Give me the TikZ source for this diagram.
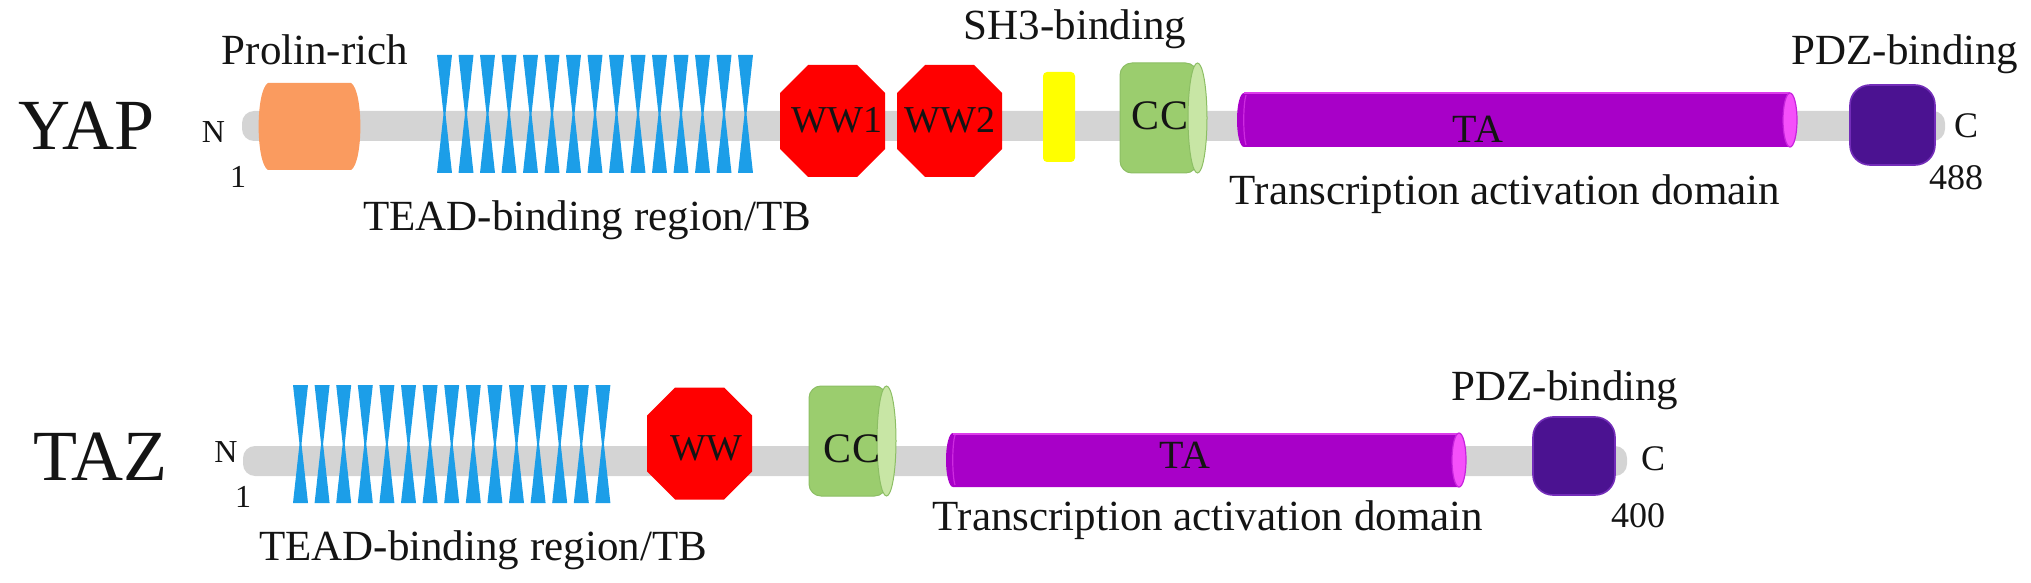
\documentclass[tikz,border=0pt]{standalone}
\usepackage{fontspec}
\setmainfont{Liberation Serif}
\definecolor{barg}{RGB}{212,212,212}
\definecolor{prolin}{RGB}{250,155,95}
\definecolor{teadblue}{RGB}{28,158,232}
\definecolor{wwred}{RGB}{255,0,0}
\definecolor{sh3yel}{RGB}{255,255,0}
\definecolor{ccbody}{RGB}{155,205,110}
\definecolor{ccface}{RGB}{200,230,165}
\definecolor{ccline}{RGB}{140,190,100}
\definecolor{tabody}{RGB}{168,0,200}
\definecolor{taface}{RGB}{245,80,250}
\definecolor{taedge}{RGB}{220,60,235}
\definecolor{pdzfill}{RGB}{75,18,145}
\definecolor{pdzline}{RGB}{115,45,185}
\definecolor{txt}{RGB}{20,20,20}
\newcommand\tacyl[3]{%
  \fill[tabody] (#2-7,#3-27) -- (#1+7,#3-27) .. controls (#1+3,#3-27) and (#1,#3-15) .. (#1,#3)
     .. controls (#1,#3+15) and (#1+3,#3+27) .. (#1+7,#3+27) -- (#2-7,#3+27) -- cycle;
  \draw[taedge, line width=1pt] (#1+7,#3-26.5) -- (#2-7,#3-26.5);
  \draw[taedge!70!tabody, line width=0.6pt] (#1+9,#3-25) .. controls (#1+6,#3-15) and (#1+6,#3+15) .. (#1+9,#3+25);
  \fill[taface, draw=taedge!60!tabody, line width=0.6pt] (#2-7,#3) ellipse [x radius=7, y radius=27];
}
\tikzset{
  lab/.style={font=\fontsize{21.5}{24}\selectfont, anchor=base, inner sep=0pt, text=txt},
  big/.style={font=\fontsize{36}{40}\selectfont, anchor=base west, inner sep=0pt, text=txt},
  endlab/.style={font=\fontsize{16}{18}\selectfont, anchor=base, inner sep=0pt, text=txt},
  numlab/.style={font=\fontsize{18}{20}\selectfont, anchor=base, inner sep=0pt, text=txt},
  inlab/.style={font=\fontsize{19}{21}\selectfont, anchor=base, inner sep=0pt, text=txt},
  hglass/.pic={\fill[teadblue] (-7.5,-59) -- (7.5,-59) -- (1,0) -- (7.5,59) -- (-7.5,59) -- (-1,0) -- cycle;},
  octa/.pic={\fill[wwred] (-24.5,-56) -- (24.5,-56) -- (52.5,-28) -- (52.5,28) -- (24.5,56) -- (-24.5,56) -- (-52.5,28) -- (-52.5,-28) -- cycle;},
  cccyl/.pic={\fill[ccbody, draw=ccline, line width=0.5pt, rounded corners=6] (34,-55) -- (-43.5,-55) -- (-43.5,55) -- (34,55) -- cycle;
              \fill[ccface, draw=ccline, line width=0.5pt] (34,0) ellipse [x radius=9.5, y radius=55];},
  prolinbox/.pic={\fill[prolin] (-41.5,-43.5) -- (41.5,-43.5) .. controls (54,-36) and (54,36) .. (41.5,43.5)
              -- (-41.5,43.5) .. controls (-54,36) and (-54,-36) .. cycle;},
}
\begin{document}
\begin{tikzpicture}[x=0.5pt,y=-0.5pt]
\useasboundingbox (0,0) rectangle (2031,583);
% ================= YAP =================
\fill[barg, rounded corners=6] (242,111) rectangle (1945,141);
\pic at (309.5,126.5) {prolinbox};
\foreach \i in {0,...,14} { \pic at (444.5+\i*21.5,114) {hglass}; }
\pic at (832.5,121) {octa};
\pic at (949.5,121) {octa};
\fill[sh3yel, rounded corners=2] (1043,72) rectangle (1075,162);
\pic at (1163.5,118) {cccyl};
\tacyl{1237}{1797}{120}
\fill[pdzfill, draw=pdzline, line width=0.8pt, rounded corners=10] (1850,85) rectangle (1935,165);

\node[big] (yap) at (18,150) {YAP};
\node[endlab] (yapN) at (213.5,143) {N};
\node[endlab] (yap1) at (238,188) {1};
\node[lab] (yapPro) at (315,65) {Prolin-rich};
\node[lab] (yapTB) at (587,230) {TEAD-binding region/TB};
\node[inlab] (yapWW1) at (837,133) {WW1};
\node[inlab] (yapWW2) at (950,133) {WW2};
\node[lab] (yapSH3) at (1075,40) {SH3-binding};
\node[font=\fontsize{21}{23}\selectfont, anchor=base, inner sep=0pt, text=txt] (yapCC) at (1160,130) {CC};
\node[font=\fontsize{20}{22}\selectfont, anchor=base, inner sep=0pt, text=txt] (yapTA) at (1478,143) {TA};
\node[lab] (yapTAD) at (1505,205) {Transcription activation domain};
\node[lab] (yapPDZ) at (1905,65) {PDZ-binding};
\node[numlab] (yapC) at (1966,138) {C};
\node[numlab] (yap488) at (1956,190) {488};
% ================= TAZ =================
\fill[barg, rounded corners=6] (243,446) rectangle (1627,476);
\foreach \i in {0,...,14} { \pic at (300.5+\i*21.6,444) {hglass}; }
\pic at (699.5,443.5) {octa};
\pic at (852.5,441) {cccyl};
\tacyl{946}{1466}{460}
\fill[pdzfill, draw=pdzline, line width=0.8pt, rounded corners=10] (1533,417) rectangle (1615,495);

\node[big] (taz) at (33,480) {TAZ};
\node[endlab] (tazN) at (226,462) {N};
\node[endlab] (taz1) at (243,507) {1};
\node[lab] (tazTB) at (483,560) {TEAD-binding region/TB};
\node[inlab] (tazWW) at (706,460) {WW};
\node[font=\fontsize{21}{23}\selectfont, anchor=base, inner sep=0pt, text=txt] (tazCC) at (852,462) {CC};
\node[font=\fontsize{20}{22}\selectfont, anchor=base, inner sep=0pt, text=txt] (tazTA) at (1185,468) {TA};
\node[lab] (tazTAD) at (1208,530) {Transcription activation domain};
\node[lab] (tazPDZ) at (1565,400) {PDZ-binding};
\node[numlab] (tazC) at (1653,470) {C};
\node[numlab] (taz400) at (1638,527) {400};
\end{tikzpicture}
\end{document}
